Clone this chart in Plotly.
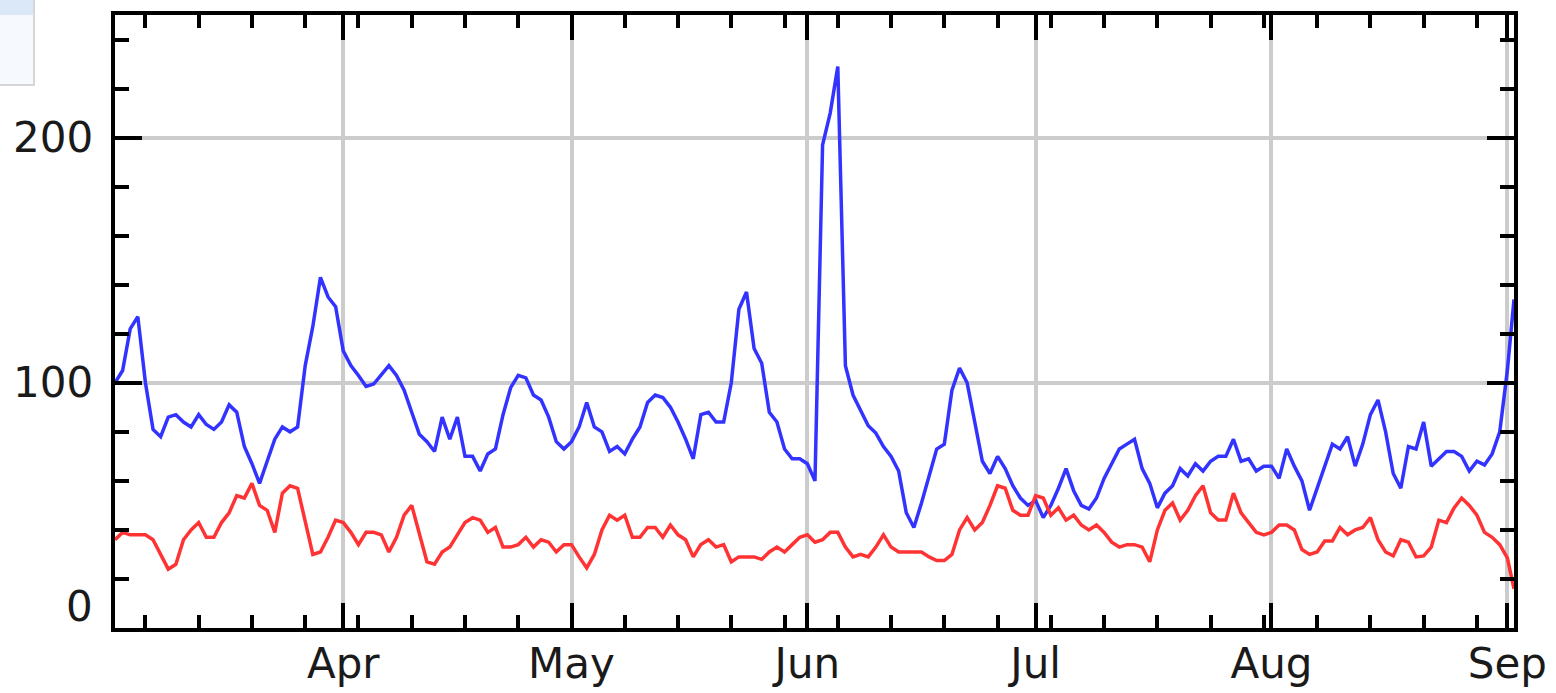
import pandas as pd
import plotly.graph_objects as go

# Daily samples from 2017-03-02 to 2017-09-01, plus the final (partial-day) reading
dates = list(pd.date_range("2017-03-02", "2017-09-01", freq="D")) + [pd.Timestamp("2017-09-01 21:00")]

blue_values = [
    100, 105, 122, 127, 100, 81, 78, 86, 87, 84,
    82, 87, 83, 81, 84, 91, 88, 74, 67, 59,
    68, 77, 82, 80, 82, 107, 123, 143, 135, 131,
    113, 107, 103, 98.5, 99.5, 103, 107, 103, 97, 88,
    79, 76, 72, 86, 77, 86, 70, 70, 64, 71,
    73, 87, 98, 103, 102, 95, 93, 86, 76, 73,
    76, 82, 92, 82, 80, 72, 74, 71, 77, 82,
    92, 95, 94, 90, 84, 77, 69, 87, 88, 84,
    84, 100, 130, 137, 114, 108, 88, 84, 73, 69,
    69, 67, 60, 197, 210, 229, 107, 95, 89, 82.5,
    79.5, 74, 70, 64, 47, 41, 51, 62, 73, 75,
    97, 106, 100, 84, 68, 63, 70, 65, 58, 53,
    50, 52, 45, 50, 57, 65, 56, 50, 48.5, 53,
    61, 67, 73, 75, 77, 65, 59, 49, 55, 58,
    65, 62, 67, 64, 68, 70, 70, 77, 68, 69,
    64, 66, 66, 61, 73, 66, 60, 48, 57, 67,
    75, 73, 78, 66, 75, 87, 93, 80, 63, 57,
    74, 73, 84, 66, 69, 72, 72, 70, 64, 68,
    66.5, 71, 80, 105,
    134,
]

red_values = [
    36, 39, 38, 38, 38, 36, 30, 24, 26, 36,
    40, 43, 37, 37, 43, 47, 54, 53, 59, 50,
    48, 39, 55, 58, 57, 44, 30, 31, 37, 44,
    43, 39, 34, 39, 39, 38, 31, 37, 46, 50,
    38, 27, 26, 31, 33, 38, 43, 45, 44, 39,
    41, 33, 33, 34, 37, 33, 36, 35, 31, 34,
    34, 29, 24.5, 30, 40, 46, 44, 46, 37, 37,
    41, 41, 37, 42, 38, 36, 29, 34, 36, 33,
    34, 27, 29, 29, 29, 28, 31, 33, 31, 34,
    37, 38, 35, 36, 39, 39, 33, 29, 30, 29,
    33, 38, 33, 31, 31, 31, 31, 29, 27.5, 27.5,
    30, 40, 45, 40, 43, 50, 58, 57, 48, 46,
    46, 54, 53, 46, 49, 44, 46, 42, 40, 42,
    39, 35, 33, 34, 34, 33, 27, 40, 48, 51,
    44, 48, 54, 58, 47, 44, 44, 55, 47, 43,
    39, 38, 39, 42, 42, 40, 32, 30, 31, 35.5,
    35.5, 41, 38, 40, 41, 45, 36, 31, 29.4, 36,
    35, 29, 29.4, 33, 44, 43, 49, 53, 50, 46,
    39, 37, 34, 28.6,
    16,
]

y_label_values = [0, 100, 200]
y_label_texts = ["0", "100", "200"]

FONT = "DejaVu Sans"
TXT = "#1a1a1a"

fig = go.Figure()
fig.add_trace(go.Scatter(x=dates, y=blue_values, mode="lines",
                         line=dict(color="#3333ff", width=3.5), showlegend=False))
fig.add_trace(go.Scatter(x=dates, y=red_values, mode="lines",
                         line=dict(color="#ff3333", width=3.5), showlegend=False))

annotations = []
for v, t in zip(y_label_values, y_label_texts):
    annotations.append(dict(
        x=0, xref="paper", y=v, yref="y", text=t, showarrow=False,
        xanchor="right", yanchor="middle", xshift=-20,
        yshift=22 if v == 0 else 0,
        font=dict(family=FONT, size=42, color=TXT),
    ))

shapes = [
    # partially visible legend/window box in the top-left corner
    dict(type="rect", xref="paper", yref="paper", xsizemode="pixel", ysizemode="pixel",
         xanchor=0, yanchor=1, x0=-118, x1=-81, y0=17, y1=-70,
         fillcolor="#f6f9fd", line=dict(color="#d6d6d6", width=2), layer="above"),
    dict(type="rect", xref="paper", yref="paper", xsizemode="pixel", ysizemode="pixel",
         xanchor=0, yanchor=1, x0=-118, x1=-82, y0=17, y1=0,
         fillcolor="#dae8f8", line=dict(width=0), layer="above"),
]

fig.update_layout(
    width=1556, height=693,
    margin=dict(l=115, r=42, t=15, b=65, pad=0, autoexpand=False),
    paper_bgcolor="white", plot_bgcolor="white",
    showlegend=False,
    annotations=annotations,
    shapes=shapes,
    xaxis=dict(
        type="date", automargin=False,
        range=[dates[0], dates[-1]],
        tickmode="linear", tick0="2017-04-01", dtick="M1", tickformat="%b",
        ticks="inside", ticklen=25, tickwidth=4, tickcolor="black",
        showline=True, linewidth=4, linecolor="black", mirror="ticks",
        showgrid=True, gridcolor="#cccccc", gridwidth=4, zeroline=False,
        tickfont=dict(family=FONT, size=42, color=TXT),
        ticklabelstandoff=-4,
        minor=dict(tick0="2017-03-06", dtick=7 * 86400000, ticks="inside",
                   ticklen=13, tickwidth=4, tickcolor="black", showgrid=False),
    ),
    yaxis=dict(
        automargin=False,
        range=[0, 250],
        tickmode="linear", tick0=0, dtick=100,
        ticks="inside", ticklen=27, tickwidth=4, tickcolor="black",
        showticklabels=False,
        showline=True, linewidth=4, linecolor="black", mirror="ticks",
        showgrid=True, gridcolor="#cccccc", gridwidth=4, zeroline=False,
        minor=dict(tick0=0, dtick=20, ticks="inside", ticklen=14, tickwidth=4,
                   tickcolor="black", showgrid=False),
    ),
)

fig.write_html("out.html", config={"displayModeBar": False},
               post_script="document.body.style.margin='0px';document.body.style.overflow='hidden';")
